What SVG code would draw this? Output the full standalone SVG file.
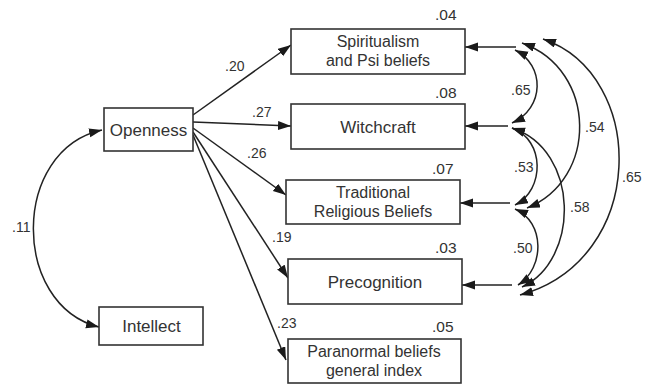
<svg xmlns="http://www.w3.org/2000/svg" width="649" height="385" viewBox="0 0 649 385">
<defs>
<marker id="ah" markerUnits="userSpaceOnUse" markerWidth="14" markerHeight="10" refX="13" refY="4.5" orient="auto-start-reverse" viewBox="0 0 14 10">
<path d="M0,0 L13,4.5 L0,9 z" fill="#1a1a1a"/>
</marker>
<style>
.box{fill:#fff;stroke:#333;stroke-width:1.6}
.bt{font-family:"Liberation Sans",Arial,sans-serif;font-size:17px;fill:#333;text-anchor:middle}
.b2{font-size:16px}
.lb{font-family:"Liberation Sans",Arial,sans-serif;font-size:14px;fill:#333}
.r2{font-size:15.5px}
.ln{fill:none;stroke:#222;stroke-width:1.5}
.ar{marker-end:url(#ah)}
.ar2{marker-start:url(#ah);marker-end:url(#ah)}
</style>
</defs>
<rect width="649" height="385" fill="#fff"/>
<g id="connectors">
<path class="ln ar" d="M193,115 L291,45"/>
<path class="ln ar" d="M193,122 L291,126"/>
<path class="ln ar" d="M193,128 L286,195"/>
<path class="ln ar" d="M193,132 L288,278"/>
<path class="ln ar" d="M193,135 L286,360"/>
<path class="ln ar2" d="M102,130 C11,150 11,305 99,327"/>
<path class="ln ar" d="M516,47 L465,47"/>
<path class="ln ar" d="M508,126 L465,126"/>
<path class="ln ar" d="M510,203 L460,203"/>
<path class="ln ar" d="M512,285 L462,285"/>
<path class="ln ar2" d="M515,50 C545,65 545,108 512,123"/>
<path class="ln ar2" d="M522,43 C598,70 598,180 527,208"/>
<path class="ln ar2" d="M543,39 C648,75 648,260 520,295"/>
<path class="ln ar2" d="M512,128 C545,140 545,190 515,205"/>
<path class="ln ar2" d="M512,128 C580,150 580,260 522,287"/>
<path class="ln ar2" d="M515,209 C545,222 545,268 518,285"/>
<text class="lb" x="225" y="71">.20</text>
<text class="lb" x="252" y="117">.27</text>
<text class="lb" x="247" y="158">.26</text>
<text class="lb" x="272" y="242">.19</text>
<text class="lb" x="277" y="328">.23</text>
<text class="lb" x="12" y="232">.11</text>
<text class="lb" x="511" y="95">.65</text>
<text class="lb" x="585" y="132">.54</text>
<text class="lb" x="622" y="182">.65</text>
<text class="lb" x="514" y="172">.53</text>
<text class="lb" x="570" y="212">.58</text>
<text class="lb" x="513" y="253">.50</text>
</g>
<g id="openness">
<rect class="box" x="104" y="108" width="89" height="43"/>
<text class="bt" x="148.5" y="136">Openness</text>
</g>
<g id="intellect">
<rect class="box" x="99" y="307" width="104" height="38"/>
<text class="bt" x="151.5" y="332">Intellect</text>
</g>
<g id="spiritualism">
<rect class="box" x="291" y="29" width="174" height="45"/>
<text class="bt b2" x="378" y="47">Spiritualism</text>
<text class="bt b2" x="378" y="66">and Psi beliefs</text>
<text class="lb r2" x="435" y="20">.04</text>
</g>
<g id="witchcraft">
<rect class="box" x="291" y="104" width="174" height="45"/>
<text class="bt" x="378" y="133">Witchcraft</text>
<text class="lb r2" x="435" y="98">.08</text>
</g>
<g id="traditional">
<rect class="box" x="286" y="180" width="174" height="44"/>
<text class="bt b2" x="373" y="198">Traditional</text>
<text class="bt b2" x="373" y="217">Religious Beliefs</text>
<text class="lb r2" x="432" y="174">.07</text>
</g>
<g id="precognition">
<rect class="box" x="288" y="259" width="174" height="45"/>
<text class="bt" x="375" y="288">Precognition</text>
<text class="lb r2" x="435" y="253">.03</text>
</g>
<g id="paranormal">
<rect class="box" x="288" y="339" width="173" height="44"/>
<text class="bt b2" x="374" y="357">Paranormal beliefs</text>
<text class="bt b2" x="374" y="376">general index</text>
<text class="lb r2" x="432" y="332">.05</text>
</g>
</svg>
